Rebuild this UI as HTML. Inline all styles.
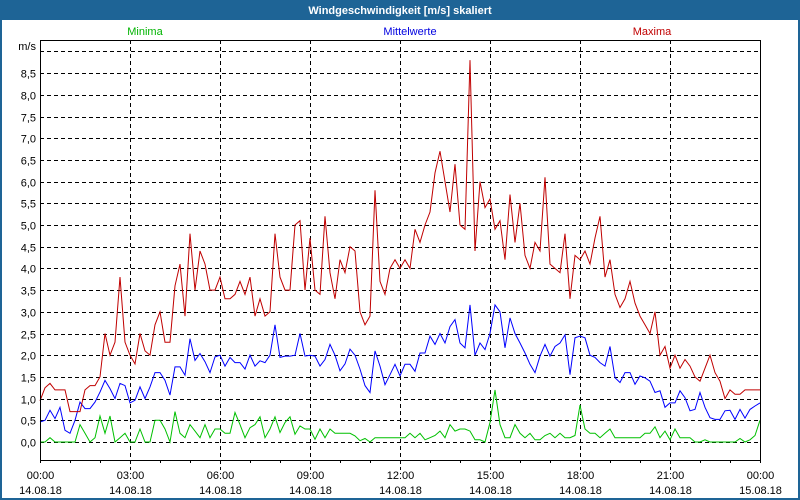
<!DOCTYPE html>
<html><head><meta charset="utf-8"><style>
html,body{margin:0;padding:0;background:#fff;}
svg{display:block;font-family:"Liberation Sans","DejaVu Sans",sans-serif;}
</style></head><body>
<svg id="chart" width="800" height="500" viewBox="0 0 800 500">
<rect x="0" y="0" width="800" height="500" fill="#1e6496"/>
<rect x="2" y="20" width="796" height="478" fill="#ffffff"/>
<text x="400" y="14" text-anchor="middle" fill="#fff" font-size="11" font-weight="bold">Windgeschwindigkeit [m/s] skaliert</text>
<text x="145" y="35" text-anchor="middle" fill="#00b400" font-size="11">Minima</text>
<text x="410" y="35" text-anchor="middle" fill="#0000e0" font-size="11">Mittelwerte</text>
<text x="652" y="35" text-anchor="middle" fill="#c00000" font-size="11">Maxima</text>
<text x="36" y="50" text-anchor="end" fill="#000" font-size="11">m/s</text>
<g id="grid"></g>
<g id="series"></g>
<g id="axes"></g>
</svg>
<script>
const minVals=[0,0,0.1,0,0,0,0,0,0.4,0.2,0,0.1,0.6,0.2,0.6,0,0.1,0.2,0,0,0.3,0,0,0.5,0.5,0.3,0,0.7,0.2,0.1,0.4,0.25,0.1,0.4,0.1,0.3,0.3,0.2,0.2,0.68,0.4,0.1,0.33,0.4,0.58,0.1,0.3,0.58,0.22,0.45,0.58,0.18,0.37,0.3,0.3,0.06,0.3,0.1,0.3,0.2,0.2,0.2,0.2,0.14,0.03,0.08,0,0.1,0.1,0.1,0.1,0.1,0.1,0.1,0.2,0.1,0.2,0.05,0.1,0.15,0.25,0.1,0.4,0.25,0.3,0.3,0.25,0.05,0.05,0,0.45,1.2,0.4,0.1,0.1,0.4,0.2,0.1,0.2,0.05,0.05,0.15,0.2,0.1,0.2,0.1,0.1,0.15,0.85,0.3,0.2,0.2,0.1,0.2,0.3,0.1,0.1,0.1,0.1,0.1,0.1,0.2,0.2,0.35,0.1,0.25,0.05,0.3,0.1,0.1,0.1,0,0,0.05,0,0,0,0,0,0,0.08,0,0.05,0.15,0.5];
const meanVals=[0.46,0.5,0.73,0.54,0.8,0.27,0.2,0.5,0.92,0.77,0.77,0.92,1.15,1.42,1.23,1.0,1.35,1.3,0.9,0.96,1.27,1.0,1.27,1.6,1.6,1.42,1.08,1.73,1.73,1.54,2.38,1.88,2.04,1.85,1.6,1.96,2.0,1.75,1.95,1.83,1.83,1.68,2.0,1.75,1.87,1.83,2.0,2.7,1.95,1.98,1.98,2.0,2.5,1.98,2.0,1.98,1.75,1.9,2.25,2.0,1.64,1.8,2.14,2.0,1.68,1.3,1.14,2.1,1.75,1.32,1.55,1.79,1.52,1.79,1.79,1.63,2.05,2.05,2.44,2.25,2.5,2.28,2.66,2.82,2.28,2.17,3.16,2.0,2.28,2.13,2.5,3.16,3.0,2.17,2.86,2.5,2.28,2.05,1.79,1.6,1.98,2.25,1.98,2.2,2.28,2.47,1.55,2.4,2.44,2.4,2.0,1.95,1.83,1.75,2.2,1.48,1.37,1.6,1.6,1.33,1.52,1.48,1.4,1.14,1.18,0.8,0.9,0.9,1.18,1.02,0.72,0.75,1.14,0.8,0.56,0.52,0.52,0.72,0.73,0.52,0.75,0.55,0.75,0.83,0.9];
const maxVals=[0.95,1.25,1.35,1.2,1.2,1.2,0.7,0.7,0.7,1.2,1.3,1.3,1.5,2.5,2.0,2.3,3.8,2.3,2.0,1.8,2.5,2.1,2.0,2.7,3.0,2.3,2.3,3.6,4.1,2.9,4.8,3.5,4.4,4.1,3.5,3.5,3.8,3.3,3.3,3.4,3.7,3.4,3.8,2.9,3.3,2.9,3.0,4.8,3.8,3.5,3.5,5.0,5.1,3.5,4.7,3.5,3.4,5.2,3.9,3.3,4.2,3.9,4.5,4.4,3.0,2.7,2.9,5.8,3.7,3.4,4.0,4.2,4.0,4.2,4.0,4.9,4.6,5.0,5.3,6.2,6.7,6.0,5.3,6.4,5.0,4.9,8.8,4.4,6.0,5.4,5.6,4.9,5.1,4.2,5.7,4.6,5.5,4.3,4.0,4.6,4.4,6.1,4.1,4.0,3.9,4.8,3.3,4.3,4.2,4.4,4.1,4.7,5.2,3.8,4.2,3.4,3.1,3.3,3.7,3.2,2.9,2.7,2.5,3.0,2.0,2.2,1.7,2.0,1.7,1.9,1.75,1.5,1.4,1.7,2.0,1.6,1.4,1.0,1.2,1.1,1.1,1.2,1.2,1.2,1.2];
const yTicks=[0,0.5,1,1.5,2,2.5,3,3.5,4,4.5,5,5.5,6,6.5,7,7.5,8,8.5,9];
const yTickLabels=["0,0","0,5","1,0","1,5","2,0","2,5","3,0","3,5","4,0","4,5","5,0","5,5","6,0","6,5","7,0","7,5","8,0","8,5",""];
const xHours=[0,3,6,9,12,15,18,21,24];
const xTimeLabels=["00:00","03:00","06:00","09:00","12:00","15:00","18:00","21:00","00:00"];
const xDateLabels=["14.08.18","14.08.18","14.08.18","14.08.18","14.08.18","14.08.18","14.08.18","14.08.18","15.08.18"];

const X0=40,X1=760,Y0=442,PER=43.4,YTOP=40,YBOT=460;
const NS="http://www.w3.org/2000/svg";
function xH(h){return X0+(X1-X0)*h/24;}
function yV(v){return Y0-v*PER;}
function mk(tag,attrs,parent){const e=document.createElementNS(NS,tag);for(const k in attrs)e.setAttribute(k,attrs[k]);parent.appendChild(e);return e;}
const grid=document.getElementById('grid'),series=document.getElementById('series'),axes=document.getElementById('axes');

yTicks.forEach((v,i)=>{
  const y=Math.round(yV(v))+0.5;
  const l=mk('line',{x1:X0,x2:X1,y1:y,y2:y,stroke:'#000','stroke-width':1,'stroke-dasharray':'4,3'},grid);
  
  
  if(yTickLabels[i]){
    const t=mk('text',{x:36,y:y+4,'text-anchor':'end','font-size':11,fill:'#000'},axes);
    t.textContent=yTickLabels[i];
    
    
  }
});
xHours.forEach((h,i)=>{
  const x=Math.round(xH(h))+0.5;
  if(h>0&&h<24){
    const l=mk('line',{x1:x,x2:x,y1:YTOP,y2:YBOT+10,stroke:'#000','stroke-width':1,'stroke-dasharray':'4,3'},grid);
    
    
  }
  const t=mk('text',{x:x,y:479,'text-anchor':'middle','font-size':11,fill:'#000'},axes);
  t.textContent=xTimeLabels[i];
  
  
  const d=mk('text',{x:x,y:494,'text-anchor':'middle','font-size':11,fill:'#000'},axes);
  d.textContent=xDateLabels[i];
  
  
});
for(let h=0;h<=24;h++){
  const x=Math.round(xH(h))+0.5;
  const l=mk('line',{x1:x,x2:x,y1:YBOT,y2:YBOT+3,stroke:'#000'},axes);
  
  
}
function drawSeries(vals,color,name){
  const n=vals.length;
  const pts=vals.map((v,i)=>(xH(24*i/(n-1))).toFixed(1)+','+yV(v).toFixed(1)).join(' ');
  const p=mk('polyline',{points:pts,fill:'none',stroke:color,'stroke-width':1},series);
  
  
}
drawSeries(minVals,'#00c000','series-minima');
drawSeries(meanVals,'#0000ff','series-mittelwerte');
drawSeries(maxVals,'#c00000','series-maxima');

const f=mk('path',{d:`M${X0+0.5},${YTOP+0.5} H${X1+0.5} V${YBOT+0.5} H${X0+0.5} Z`,fill:'none',stroke:'#000','stroke-width':1},axes);


</script>
</body></html>
